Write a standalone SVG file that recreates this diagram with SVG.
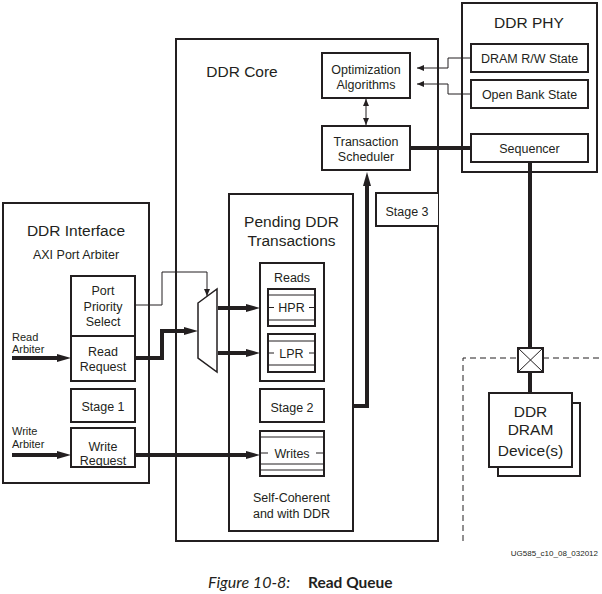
<svg xmlns="http://www.w3.org/2000/svg" width="602" height="594" viewBox="0 0 602 594" font-family="'Liberation Sans', Arial, sans-serif">
<style>
.box{fill:#fff;stroke:#231f20;stroke-width:2}
.ln{fill:none;stroke:#231f20;stroke-width:1}
.thk{fill:none;stroke:#231f20;stroke-width:4}
text{font-family:"Liberation Sans",Arial,sans-serif;fill:#231f20;text-anchor:middle}
.h{font-size:15.5px}
.m{font-size:12.5px}
.s{font-size:11px;text-anchor:start}
</style>
<defs>
<marker id="ah" markerUnits="userSpaceOnUse" markerWidth="14" markerHeight="8" refX="0" refY="4" orient="auto">
<path d="M0,0 L14,4 L0,8 Z" fill="#231f20"/>
</marker>
<marker id="as" markerUnits="userSpaceOnUse" markerWidth="7" markerHeight="6" refX="7" refY="3" orient="auto-start-reverse">
<path d="M0,0 L7,3 L0,6 Z" fill="#231f20"/>
</marker>
</defs>
<rect width="602" height="594" fill="#fff"/>

<g id="ddr-core">
<rect class="box" x="176" y="39" width="262" height="502"/>
<text class="h" x="242" y="77">DDR Core</text>
</g>
<g id="ddr-phy">
<rect class="box" x="462" y="3" width="135" height="169"/>
<text class="h" x="529" y="28">DDR PHY</text>
</g>
<g id="dram-rw-state">
<rect class="box" x="471" y="44" width="117" height="28"/>
<text class="m" x="529.5" y="62.5">DRAM R/W State</text>
</g>
<g id="open-bank-state">
<rect class="box" x="471" y="80" width="117" height="28"/>
<text class="m" x="529.5" y="98.5">Open Bank State</text>
</g>
<g id="sequencer">
<rect class="box" x="471" y="134" width="117" height="28"/>
<text class="m" x="529.5" y="152.5">Sequencer</text>
</g>
<g id="optimization-algorithms">
<rect class="box" x="322" y="53" width="88" height="45"/>
<text class="m" x="366" y="73.5">Optimization</text>
<text class="m" x="366" y="88.5">Algorithms</text>
</g>
<g id="transaction-scheduler">
<rect class="box" x="322" y="126" width="88" height="44"/>
<text class="m" x="366" y="145.5">Transaction</text>
<text class="m" x="366" y="161">Scheduler</text>
</g>
<g id="stage-3">
<path d="M438,193 H376 V226 H438" class="box"/>
<text class="m" x="407" y="215.5">Stage 3</text>
</g>
<g id="pending-ddr-transactions">
<rect class="box" x="229" y="194" width="124" height="337"/>
<text class="h" x="291.5" y="226.5">Pending DDR</text>
<text class="h" x="291.5" y="246">Transactions</text>
<text class="m" x="291.5" y="501.5">Self-Coherent</text>
<text class="m" x="291.5" y="517.5">and with DDR</text>
</g>
<g id="reads">
<rect class="box" x="260" y="263" width="64" height="118"/>
<text class="m" x="292" y="281.5">Reads</text>
</g>
<g id="hpr">
<rect class="box" x="268" y="289" width="47" height="37"/>
<path class="ln" d="M268,295 H315 M268,320 H315 M268,307.5 H274 M309,307.5 H315"/>
<text class="m" x="291.5" y="312">HPR</text>
</g>
<g id="lpr">
<rect class="box" x="268" y="334" width="47" height="38"/>
<path class="ln" d="M268,341 H315 M268,365 H315 M268,353 H274 M309,353 H315"/>
<text class="m" x="291.5" y="357.5">LPR</text>
</g>
<g id="stage-2">
<rect class="box" x="260" y="389" width="64" height="33"/>
<text class="m" x="292" y="411.5">Stage 2</text>
</g>
<g id="writes">
<rect class="box" x="260" y="431" width="64" height="45"/>
<path class="ln" d="M260,437 H324 M260,464 H324 M260,470 H324 M260,453 H268 M316,453 H324"/>
<text class="m" x="292" y="457.5">Writes</text>
</g>
<g id="ddr-interface">
<rect class="box" x="3" y="203" width="146" height="280"/>
<text class="h" x="76" y="235.5">DDR Interface</text>
<text class="m" x="76" y="258.5">AXI Port Arbiter</text>
<text class="s" x="12" y="341">Read</text>
<text class="s" x="12" y="353">Arbiter</text>
<text class="s" x="12" y="435">Write</text>
<text class="s" x="12" y="448">Arbiter</text>
</g>
<g id="port-priority-select">
<rect class="box" x="71" y="276" width="64" height="60"/>
<text class="m" x="103" y="294.5">Port</text>
<text class="m" x="103" y="310.5">Priority</text>
<text class="m" x="103" y="325.5">Select</text>
</g>
<g id="read-request">
<rect class="box" x="71" y="336" width="64" height="45"/>
<text class="m" x="103" y="355.5">Read</text>
<text class="m" x="103" y="370.5">Request</text>
</g>
<g id="stage-1">
<rect class="box" x="71" y="389" width="64" height="33"/>
<text class="m" x="103" y="410.5">Stage 1</text>
</g>
<g id="write-request">
<rect class="box" x="71" y="428" width="64" height="39"/>
<text class="m" x="103" y="450.5">Write</text>
<text class="m" x="103" y="464.5">Request</text>
</g>
<g id="mux">
<polygon points="198,303 217,289 217,372 198,358" fill="#fff" stroke="#231f20" stroke-width="1.5"/>
</g>
<g id="ddr-dram-devices">
<rect class="box" x="498" y="403" width="82" height="73"/>
<rect class="box" x="489" y="393" width="83" height="74"/>
<text class="h" x="530.5" y="416.5">DDR</text>
<text class="h" x="530.5" y="435">DRAM</text>
<text class="h" x="530.5" y="456">Device(s)</text>
</g>
<g id="boundary">
<path d="M463,541 V358 H518 M543,358 H602" fill="none" stroke="#231f20" stroke-width="1" stroke-dasharray="6,4"/>
</g>

<g id="connectors">
<path class="ln" d="M471,58 H448 V68 H417" marker-end="url(#as)"/>
<path class="ln" d="M471,94 H448 V84 H417" marker-end="url(#as)"/>
<path class="ln" d="M366,99 V125" marker-start="url(#as)" marker-end="url(#as)"/>
<path class="thk" d="M411,148 H470"/>
<path class="thk" d="M530,163 V348"/>
<path class="thk" d="M530,372 V392"/>
<path class="thk" d="M353,406 H367 V186" marker-end="url(#ah)"/>
<path class="ln" d="M135,305 H162 V272 H207 V296" marker-end="url(#as)"/>
<path class="thk" d="M136,358 H162 V331 H184" marker-end="url(#ah)"/>
<path class="thk" d="M218,308 H246" marker-end="url(#ah)"/>
<path class="thk" d="M218,353 H246" marker-end="url(#ah)"/>
<path class="thk" d="M136,455 H246" marker-end="url(#ah)"/>
<path class="thk" d="M12,358 H57" marker-end="url(#ah)"/>
<path class="thk" d="M12,455 H57" marker-end="url(#ah)"/>
</g>
<g id="crossbox">
<rect x="518" y="348" width="25" height="24" fill="#fff" stroke="#231f20" stroke-width="2"/>
<path class="ln" d="M518,348 L543,372 M543,348 L518,372"/>
</g>

<text x="598" y="556" style="font-size:8px;text-anchor:end">UG585_c10_08_032012</text>
<text x="208" y="588" style="font-family:Lato,'Open Sans',sans-serif;font-size:16px;font-style:italic;text-anchor:start">Figure 10-8:</text>
<text x="308" y="588" style="font-family:Lato,'Open Sans',sans-serif;font-size:15.5px;font-weight:bold;text-anchor:start">Read Queue</text>
</svg>
